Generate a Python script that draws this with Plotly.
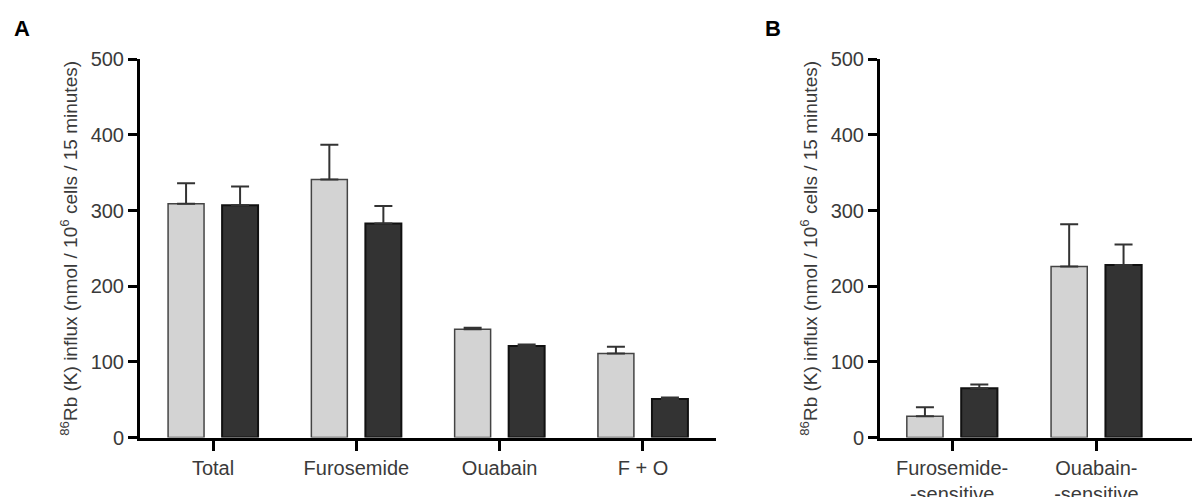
import plotly.graph_objects as go

# Panel A data
cats_a = ["Total", "Furosemide", "Ouabain", "F + O"]
light_a = [309, 341, 143, 111]
light_a_err = [27, 46, 2, 9]
dark_a = [307, 283, 121, 51]
dark_a_err = [25, 23, 2, 2]

# Panel B data
cats_b = ["Furosemide-<br>-sensitive", "Ouabain-<br>-sensitive"]
light_b = [28, 226]
light_b_err = [12, 56]
dark_b = [65, 228]
dark_b_err = [5, 27]

y_ticks = [0, 100, 200, 300, 400, 500]
y_title = "<sup>86</sup>Rb (K) influx (nmol / 10<sup>6</sup> cells / 15 minutes)"

LIGHT = "#d3d3d3"
DARK = "#333333"
TXT = "#3a3a3a"
FONT = "Liberation Sans, Arial, sans-serif"

fig = go.Figure()

def add_pair(xcats, lv, le, dv, de, xa, ya):
    fig.add_trace(go.Bar(
        x=xcats, y=lv, xaxis=xa, yaxis=ya,
        marker=dict(color=LIGHT, line=dict(color="#444444", width=1.5)),
        error_y=dict(type="data", array=le, arrayminus=[0] * len(le), symmetric=False,
                     color="#333333", thickness=2, width=9),
        showlegend=False,
    ))
    fig.add_trace(go.Bar(
        x=xcats, y=dv, xaxis=xa, yaxis=ya,
        marker=dict(color=DARK, line=dict(color="#111111", width=2)),
        error_y=dict(type="data", array=de, arrayminus=[0] * len(de), symmetric=False,
                     color="#333333", thickness=2, width=9),
        showlegend=False,
    ))

add_pair(cats_a, light_a, light_a_err, dark_a, dark_a_err, "x", "y")
add_pair(cats_b, light_b, light_b_err, dark_b, dark_b_err, "x2", "y2")

W, H = 1200, 497
OFF = 8  # page body margin offset
ydom = [1 - (437.5 - OFF) / H, 1 - (59.3 - OFF) / H]

xcommon = dict(
    showline=True, linecolor="black", linewidth=3, ticks="outside", ticklen=10,
    tickwidth=2.5, tickcolor="black", showgrid=False, zeroline=False,
    tickfont=dict(family=FONT, size=20, color=TXT), type="category",
    automargin=False,
)
ycommon = dict(
    showline=True, linecolor="black", linewidth=3, ticks="outside", ticklen=9,
    tickwidth=2.5, tickcolor="black", showgrid=False, zeroline=False,
    range=[0, 500], tickvals=y_ticks, automargin=False,
    tickfont=dict(family=FONT, size=20, color=TXT),
    title=dict(text=y_title, font=dict(family=FONT, size=19, color=TXT), standoff=8),
)

fig.update_layout(
    width=W, height=H,
    margin=dict(l=0, r=0, t=0, b=0, pad=0),
    paper_bgcolor="white", plot_bgcolor="white",
    barmode="group", bargap=0.246, bargroupgap=0.334,
    xaxis=dict(domain=[(140 - OFF) / W, (716 - OFF) / W], anchor="y", range=[-0.51, 3.51], **xcommon),
    yaxis=dict(domain=ydom, anchor="x", **ycommon),
    xaxis2=dict(domain=[(880 - OFF) / W, (1193 - OFF) / W], anchor="y2", range=[-0.5, 1.67], **xcommon),
    yaxis2=dict(domain=ydom, anchor="x2", **ycommon),
    annotations=[
        dict(text="<b>A</b>", x=(22 - OFF) / W, y=1 - (29 - OFF) / H, xref="paper", yref="paper",
             xanchor="center", yanchor="middle",
             showarrow=False, font=dict(family=FONT, size=22, color="black")),
        dict(text="<b>B</b>", x=(773 - OFF) / W, y=1 - (29 - OFF) / H, xref="paper", yref="paper",
             xanchor="center", yanchor="middle",
             showarrow=False, font=dict(family=FONT, size=22, color="black")),
    ],
)

fig.write_html("out.html")
